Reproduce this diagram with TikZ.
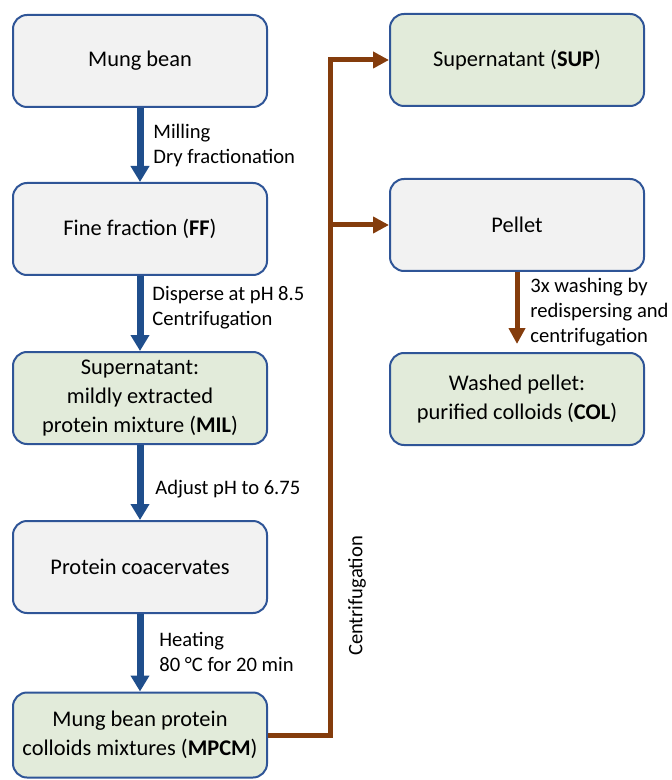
\documentclass[tikz,border=0pt]{standalone}
\usepackage{fontspec}
\setmainfont{Carlito}
\usetikzlibrary{positioning,arrows.meta}
\definecolor{boxblue}{HTML}{2F5597}
\definecolor{flowblue}{HTML}{1F4E8C}
\definecolor{flowbrown}{HTML}{843C0C}
\definecolor{graybox}{HTML}{F2F2F2}
\definecolor{greenbox}{HTML}{E2EBDA}
\tikzset{
  stepbox/.style={draw=boxblue, line width=1pt, rounded corners=7pt, minimum width=127pt, minimum height=46pt, align=center, font=\fontsize{11.2}{14.3}\selectfont, inner sep=2pt},
  rawbox/.style={stepbox, fill=graybox},
  prodbox/.style={stepbox, fill=greenbox},
  bluearrow/.style={draw=flowblue, line width=3.5pt, -{Triangle[width=9pt,length=8pt]}},
  brownline/.style={draw=flowbrown, line width=2.5pt},
  brownarrow/.style={brownline, -{Triangle[width=8pt,length=8pt]}},
  note/.style={anchor=west, align=left, font=\fontsize{10.3}{12.5}\selectfont, inner sep=0pt}
}
\begin{document}
\begin{tikzpicture}[x=0.5pt,y=-0.5pt]
  \useasboundingbox (0,0) rectangle (671,780);
  % left column
  \node[rawbox] (bean) at (140,61) {Mung bean};
  \node[rawbox] (ff) at (140,229) {Fine fraction (\textbf{FF})};
  \node[prodbox] (mil) at (140,398) {Supernatant:\\mildly extracted\\protein mixture (\textbf{MIL})};
  \node[rawbox] (coac) at (140,567) {Protein coacervates};
  \node[prodbox, minimum height=42.5pt] (mpcm) at (140,735) {Mung bean protein\\colloids mixtures (\textbf{MPCM})};
  % right column
  \node[prodbox] (sup) at (517,60) {Supernatant (\textbf{SUP})};
  \node[rawbox] (pellet) at (517,225) {Pellet};
  \node[prodbox] (col) at (517,399) {Washed pellet:\\purified colloids (\textbf{COL})};
  % process steps
  \draw[bluearrow] (bean) -- (ff);
  \draw[bluearrow] (ff) -- (mil);
  \draw[bluearrow] (mil) -- (coac);
  \draw[bluearrow] (coac) -- (mpcm);
  \node[note] (mill) at (153,146) {Milling\\Dry fractionation};
  \node[note] (disp) at (152,308) {Disperse at pH 8.5\\Centrifugation};
  \node[note] (adj) at (155,489) {Adjust pH to 6.75};
  \node[note] (heat) at (159,652) {Heating\\80 °C for 20 min};
  % separation
  \coordinate (trunk) at (330,0);
  \draw[brownarrow] (mpcm.east) -| (trunk |- sup.west) -- (sup.west);
  \draw[brownarrow] (trunk |- pellet.west) -- (pellet.west);
  \node[note, anchor=center, rotate=90] (cent) at (357,596) {Centrifugation};
  \draw[brownarrow, shorten >=4pt] (pellet) -- (col);
  \node[note] (wash) at (530,312) {3x washing by\\redispersing and\\centrifugation};
\end{tikzpicture}
\end{document}
